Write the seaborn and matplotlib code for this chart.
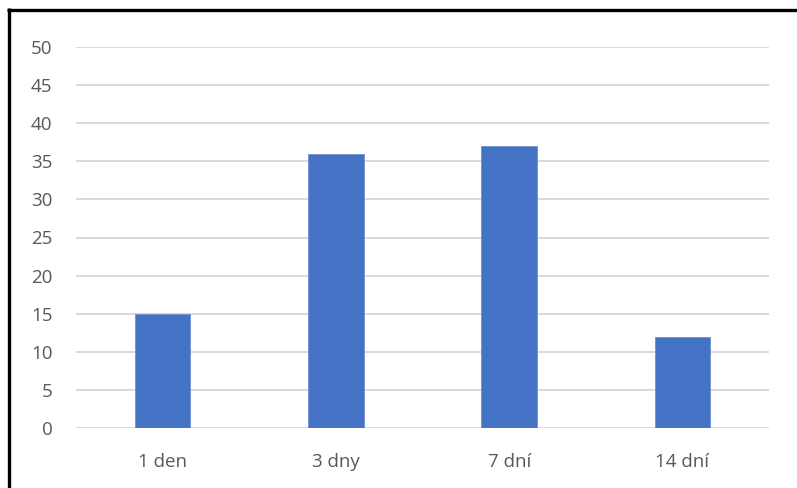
import matplotlib
matplotlib.use("Agg")
import matplotlib.pyplot as plt
import seaborn as sns
import pandas as pd
from matplotlib.lines import Line2D

categories = ["1 den", "3 dny", "7 dní", "14 dní"]
values = [15, 36, 37, 12]
y_ticks = [0, 5, 10, 15, 20, 25, 30, 35, 40, 45, 50]

sns.set_theme(style="white")
plt.rcParams["font.family"] = ["Open Sans", "DejaVu Sans"]

df = pd.DataFrame({"kategorie": categories, "hodnota": values})

W, H = 797, 488
fig = plt.figure(figsize=(W / 100, H / 100), dpi=100)
fig.patch.set_facecolor("white")
ax = fig.add_axes([76 / W, 1 - 428 / H, (769 - 76) / W, (428 - 47) / H])

sns.barplot(data=df, x="kategorie", y="hodnota", color="#4472C4",
            saturation=1, width=0.32, ax=ax, zorder=3,
            edgecolor="#6f8fd0", linewidth=0.6)

ax.set_xlim(-0.5, 3.5)
ax.set_ylim(0, 50)
ax.set_yticks(y_ticks)
ax.set_yticklabels([str(t) for t in y_ticks])
ax.yaxis.grid(True, color="#d9d9d9", linewidth=1.4, zorder=0)
ax.xaxis.grid(False)
ax.set_xlabel("")
ax.set_ylabel("")
for s in ax.spines.values():
    s.set_visible(False)
ax.tick_params(axis="y", length=0, pad=17, labelsize=13.5, labelcolor="#595959")
ax.tick_params(axis="x", length=0, pad=18, labelsize=13.5, labelcolor="#595959")

# Frame lines along the top and left edges
fig.add_artist(Line2D([8.5 / W, 8.5 / W], [0, 1 - 8 / H], transform=fig.transFigure,
                      color="black", linewidth=2.4, solid_capstyle="butt"))
fig.add_artist(Line2D([7 / W, 1], [1 - 9.5 / H, 1 - 9.5 / H], transform=fig.transFigure,
                      color="black", linewidth=2.4, solid_capstyle="butt"))

fig.savefig("out.png", dpi=100, facecolor="white")
